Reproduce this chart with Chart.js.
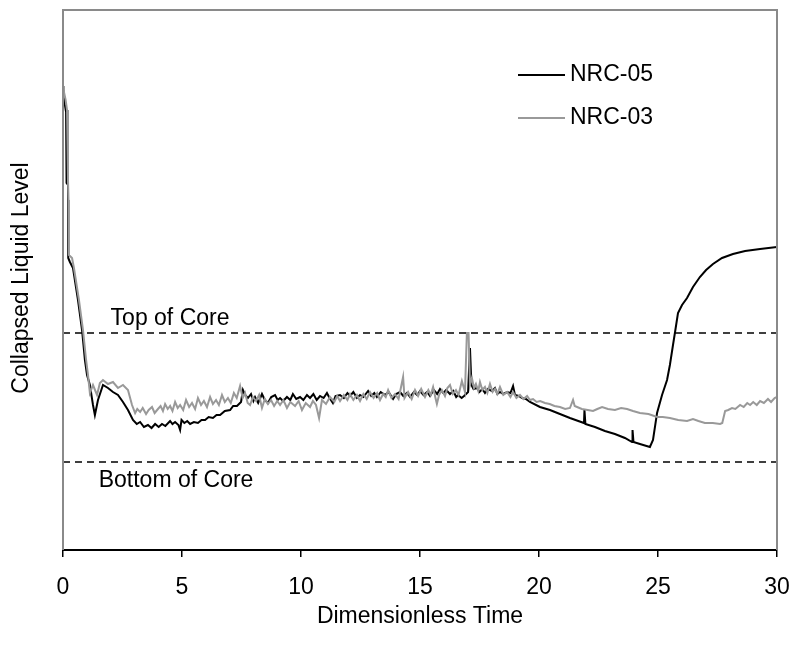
<!DOCTYPE html>
<html>
<head>
<meta charset="utf-8">
<script src="https://cdn.jsdelivr.net/npm/chart.js@4.4.1/dist/chart.umd.min.js"></script>
<style>
  html, body { margin: 0; padding: 0; background: #fff; }
  #wrap { width: 794px; height: 646px; position: relative; }
</style>
</head>
<body>
<div id="wrap"><canvas id="levelChart" width="794" height="646"></canvas></div>
<script>
    // NRC-05 (black)
    const nrc05Time = [0.00, 0.02, 0.08, 0.13, 0.15, 0.21, 0.22, 0.29, 0.42, 0.63, 0.80, 0.92, 1.01, 1.13, 1.26, 1.34, 1.47, 1.68, 1.89, 2.10,
        2.31, 2.52, 2.73, 2.94, 3.10, 3.24, 3.40, 3.57, 3.72, 3.87, 4.02, 4.16, 4.30, 4.50, 4.60, 4.71, 4.85, 4.92, 4.98, 5.10,
        5.22, 5.34, 5.50, 5.67, 5.82, 5.97, 6.12, 6.30, 6.45, 6.60, 6.80, 7.02, 7.15, 7.31, 7.48, 7.56, 7.65, 7.77, 7.90, 8.00,
        8.07, 8.20, 8.36, 8.48, 8.61, 8.75, 8.91, 9.02, 9.12, 9.25, 9.41, 9.55, 9.66, 9.80, 9.96, 10.10, 10.25, 10.38, 10.52, 10.66,
        10.80, 10.95, 11.09, 11.20, 11.34, 11.45, 11.64, 11.80, 11.95, 12.06, 12.20, 12.35, 12.48, 12.62, 12.82, 12.95, 13.08, 13.19, 13.35, 13.53,
        13.68, 13.87, 14.00, 14.16, 14.30, 14.45, 14.58, 14.75, 14.88, 15.00, 15.15, 15.30, 15.42, 15.58, 15.72, 15.84, 15.98, 16.10, 16.26, 16.40,
        16.52, 16.60, 16.75, 16.85, 17.02, 17.10, 17.16, 17.25, 17.39, 17.50, 17.62, 17.73, 17.85, 18.03, 18.15, 18.25, 18.36, 18.50, 18.66, 18.80,
        18.91, 18.99, 19.15, 19.29, 19.45, 19.62, 20.04, 20.46, 20.88, 21.30, 21.89, 21.91, 21.95, 22.35, 22.77, 23.19, 23.61, 23.91, 23.93, 23.97,
        24.24, 24.66, 24.79, 24.96, 25.17, 25.38, 25.50, 25.63, 25.71, 25.84, 26.01, 26.22, 26.47, 26.76, 27.02, 27.31, 27.69, 28.15, 28.66, 29.29,
        30.00];
    const nrc05Level = [4.60, 4.55, 4.45, 4.38, 3.67, 3.65, 2.92, 2.88, 2.82, 2.50, 2.20, 1.90, 1.75, 1.65, 1.45, 1.35, 1.50, 1.65, 1.62, 1.58,
        1.55, 1.48, 1.40, 1.30, 1.26, 1.28, 1.23, 1.25, 1.22, 1.26, 1.23, 1.26, 1.24, 1.29, 1.26, 1.28, 1.25, 1.20, 1.30, 1.27,
        1.29, 1.26, 1.28, 1.27, 1.30, 1.30, 1.33, 1.32, 1.35, 1.35, 1.39, 1.40, 1.44, 1.44, 1.48, 1.60, 1.55, 1.52, 1.56, 1.49,
        1.53, 1.47, 1.56, 1.50, 1.47, 1.53, 1.55, 1.50, 1.52, 1.49, 1.53, 1.50, 1.56, 1.51, 1.53, 1.50, 1.55, 1.52, 1.56, 1.50,
        1.54, 1.52, 1.57, 1.52, 1.47, 1.54, 1.55, 1.52, 1.57, 1.54, 1.58, 1.52, 1.55, 1.53, 1.59, 1.54, 1.57, 1.53, 1.58, 1.55,
        1.58, 1.51, 1.56, 1.58, 1.54, 1.57, 1.53, 1.58, 1.55, 1.59, 1.55, 1.58, 1.54, 1.60, 1.56, 1.61, 1.57, 1.60, 1.56, 1.59,
        1.53, 1.55, 1.52, 1.54, 1.58, 2.02, 1.65, 1.61, 1.62, 1.58, 1.61, 1.57, 1.61, 1.59, 1.62, 1.56, 1.58, 1.56, 1.58, 1.57,
        1.64, 1.55, 1.54, 1.52, 1.51, 1.48, 1.43, 1.40, 1.36, 1.32, 1.27, 1.40, 1.26, 1.23, 1.19, 1.16, 1.12, 1.08, 1.20, 1.08,
        1.06, 1.03, 1.10, 1.37, 1.55, 1.70, 1.85, 2.05, 2.17, 2.37, 2.45, 2.52, 2.63, 2.73, 2.80, 2.86, 2.92, 2.96, 2.99, 3.01,
        3.03];

    // NRC-03 (grey)
    const nrc03Time = [0.00, 0.04, 0.11, 0.17, 0.21, 0.23, 0.25, 0.38, 0.46, 0.67, 0.84, 0.97, 1.05, 1.13, 1.26, 1.43, 1.55, 1.68, 1.89, 2.10,
        2.31, 2.52, 2.73, 2.90, 3.03, 3.12, 3.24, 3.35, 3.49, 3.60, 3.74, 3.85, 3.99, 4.10, 4.20, 4.29, 4.40, 4.50, 4.60, 4.71,
        4.82, 4.92, 5.05, 5.17, 5.30, 5.42, 5.55, 5.67, 5.80, 5.92, 6.05, 6.18, 6.30, 6.43, 6.55, 6.68, 6.80, 6.93, 7.05, 7.18,
        7.30, 7.44, 7.55, 7.65, 7.76, 7.86, 7.98, 8.11, 8.24, 8.36, 8.48, 8.61, 8.74, 8.87, 9.00, 9.12, 9.26, 9.41, 9.55, 9.75,
        9.90, 10.04, 10.20, 10.38, 10.50, 10.63, 10.76, 10.88, 11.05, 11.22, 11.40, 11.52, 11.64, 11.80, 11.95, 12.06, 12.20, 12.35, 12.48, 12.62,
        12.76, 12.90, 13.05, 13.20, 13.32, 13.45, 13.56, 13.66, 13.80, 13.95, 14.10, 14.29, 14.35, 14.50, 14.65, 14.79, 14.92, 15.05, 15.21, 15.35,
        15.45, 15.55, 15.65, 15.71, 15.80, 15.92, 16.05, 16.15, 16.26, 16.38, 16.51, 16.62, 16.76, 16.89, 16.97, 17.04, 17.10, 17.18, 17.27, 17.35,
        17.45, 17.52, 17.62, 17.73, 17.83, 17.94, 18.05, 18.15, 18.25, 18.36, 18.50, 18.66, 18.80, 18.91, 19.05, 19.20, 19.35, 19.50, 19.62, 19.75,
        19.90, 20.05, 20.25, 20.45, 20.65, 20.88, 21.10, 21.30, 21.43, 21.50, 21.60, 21.80, 22.05, 22.27, 22.45, 22.65, 22.90, 23.19, 23.45, 23.70,
        23.95, 24.24, 24.60, 24.96, 25.20, 25.50, 25.85, 26.22, 26.47, 26.70, 26.97, 27.30, 27.61, 27.70, 27.82, 27.95, 28.11, 28.25, 28.45, 28.60,
        28.75, 28.87, 29.00, 29.15, 29.29, 29.45, 29.62, 29.75, 29.90, 30.00];
    const nrc03Level = [4.64, 4.58, 4.50, 4.40, 3.70, 3.50, 2.95, 2.92, 2.82, 2.50, 2.20, 1.90, 1.75, 1.57, 1.65, 1.55, 1.67, 1.70, 1.66, 1.68,
        1.62, 1.65, 1.60, 1.45, 1.37, 1.41, 1.38, 1.42, 1.36, 1.40, 1.43, 1.37, 1.41, 1.44, 1.39, 1.46, 1.41, 1.44, 1.39, 1.48,
        1.42, 1.45, 1.40, 1.50, 1.43, 1.47, 1.41, 1.52, 1.45, 1.49, 1.43, 1.53, 1.46, 1.50, 1.45, 1.55, 1.48, 1.52, 1.47, 1.57,
        1.52, 1.64, 1.52, 1.57, 1.47, 1.45, 1.53, 1.49, 1.55, 1.42, 1.51, 1.46, 1.50, 1.44, 1.49, 1.45, 1.50, 1.42, 1.48, 1.44,
        1.49, 1.40, 1.47, 1.43, 1.49, 1.45, 1.32, 1.50, 1.46, 1.53, 1.48, 1.54, 1.49, 1.55, 1.50, 1.56, 1.50, 1.55, 1.49, 1.56,
        1.51, 1.58, 1.52, 1.57, 1.50, 1.56, 1.53, 1.60, 1.52, 1.56, 1.51, 1.73, 1.52, 1.58, 1.51, 1.60, 1.54, 1.61, 1.53, 1.60,
        1.55, 1.63, 1.52, 1.46, 1.55, 1.60, 1.54, 1.62, 1.65, 1.56, 1.60, 1.55, 1.69, 1.58, 2.17, 2.17, 1.65, 1.72, 1.62, 1.66,
        1.59, 1.68, 1.60, 1.63, 1.57, 1.66, 1.58, 1.61, 1.56, 1.63, 1.55, 1.58, 1.53, 1.58, 1.52, 1.55, 1.51, 1.54, 1.50, 1.51,
        1.48, 1.49, 1.47, 1.46, 1.44, 1.43, 1.41, 1.42, 1.50, 1.44, 1.43, 1.41, 1.40, 1.39, 1.41, 1.43, 1.41, 1.40, 1.42, 1.41,
        1.39, 1.37, 1.36, 1.33, 1.33, 1.32, 1.30, 1.29, 1.31, 1.29, 1.27, 1.27, 1.26, 1.27, 1.39, 1.40, 1.42, 1.41, 1.45, 1.43,
        1.47, 1.45, 1.48, 1.45, 1.49, 1.47, 1.51, 1.48, 1.52, 1.53];

    const xTicks = [0, 5, 10, 15, 20, 25, 30];
    const topOfCore = 2.17;
    const bottomOfCore = 0.88;

    const FONT = '"Liberation Sans", Arial, sans-serif';

    function toPoints(xs, ys) {
        return xs.map((x, i) => ({ x: x, y: ys[i] }));
    }

    const decorPlugin = {
        id: 'decor',
        afterDatasetsDraw(chart) {
            const ctx = chart.ctx;
            const a = chart.chartArea;
            const xs = chart.scales.x;
            const ys = chart.scales.y;
            ctx.save();
            // frame
            ctx.lineWidth = 2;
            ctx.strokeStyle = '#8a8a8a';
            ctx.beginPath();
            ctx.moveTo(a.left, a.bottom);
            ctx.lineTo(a.left, a.top);
            ctx.lineTo(a.right, a.top);
            ctx.lineTo(a.right, a.bottom);
            ctx.stroke();

            // core labels
            ctx.fillStyle = '#000';
            ctx.font = '23px ' + FONT;
            ctx.textBaseline = 'middle';
            ctx.textAlign = 'left';
            ctx.fillText('Top of Core', xs.getPixelForValue(2.0), ys.getPixelForValue(topOfCore) - 14);
            ctx.fillText('Bottom of Core', xs.getPixelForValue(1.5), ys.getPixelForValue(bottomOfCore) + 19);

            // legend
            const items = [['NRC-05', '#000000', 75], ['NRC-03', '#999999', 118]];
            items.forEach(([label, color, y]) => {
                ctx.strokeStyle = color;
                ctx.lineWidth = 2;
                ctx.beginPath();
                ctx.moveTo(518, y);
                ctx.lineTo(565, y);
                ctx.stroke();
                ctx.fillText(label, 570, y);
            });

            // y axis title
            ctx.translate(22, 278);
            ctx.rotate(-Math.PI / 2);
            ctx.textAlign = 'center';
            ctx.fillText('Collapsed Liquid Level', 0, 0);
            ctx.restore();
        }
    };

    function createChart() {
        const ctx = document.getElementById('levelChart').getContext('2d');
        new Chart(ctx, {
            type: 'line',
            data: {
                datasets: [
                    {
                        label: 'Top of Core',
                        data: [{ x: 0, y: topOfCore }, { x: 30, y: topOfCore }],
                        borderColor: '#000',
                        borderWidth: 1.5,
                        borderDash: [7, 5],
                        pointRadius: 0
                    },
                    {
                        label: 'Bottom of Core',
                        data: [{ x: 0, y: bottomOfCore }, { x: 30, y: bottomOfCore }],
                        borderColor: '#000',
                        borderWidth: 1.5,
                        borderDash: [7, 5],
                        pointRadius: 0
                    },
                    {
                        label: 'NRC-03',
                        data: toPoints(nrc03Time, nrc03Level),
                        borderColor: '#999999',
                        borderWidth: 2,
                        pointRadius: 0,
                        tension: 0
                    },
                    {
                        label: 'NRC-05',
                        data: toPoints(nrc05Time, nrc05Level),
                        borderColor: '#000000',
                        borderWidth: 2,
                        pointRadius: 0,
                        tension: 0
                    }
                ]
            },
            options: {
                responsive: false,
                animation: false,
                layout: { padding: { left: 63, top: 10, right: 17, bottom: 0 } },
                scales: {
                    x: {
                        type: 'linear',
                        min: 0,
                        max: 30,
                        afterBuildTicks: scale => { scale.ticks = xTicks.map(v => ({ value: v })); },
                        afterFit: scale => {
                            scale.height = 96;
                            scale.paddingLeft = 0;
                            scale.paddingRight = 0;
                        },
                        grid: { drawOnChartArea: false, color: '#000', tickLength: 7, lineWidth: 1.5 },
                        border: { color: '#000', width: 2 },
                        ticks: {
                            color: '#000',
                            padding: 17,
                            maxRotation: 0,
                            font: { family: FONT, size: 23 }
                        },
                        title: {
                            display: true,
                            text: 'Dimensionless Time',
                            color: '#000',
                            padding: { top: 0, bottom: 16 },
                            font: { family: FONT, size: 23 }
                        }
                    },
                    y: {
                        display: false,
                        min: 0,
                        max: 5.4
                    }
                },
                plugins: {
                    legend: { display: false },
                    tooltip: { enabled: false }
                }
            },
            plugins: [decorPlugin]
        });
    }

    window.onload = createChart;
</script>
</body>
</html>
